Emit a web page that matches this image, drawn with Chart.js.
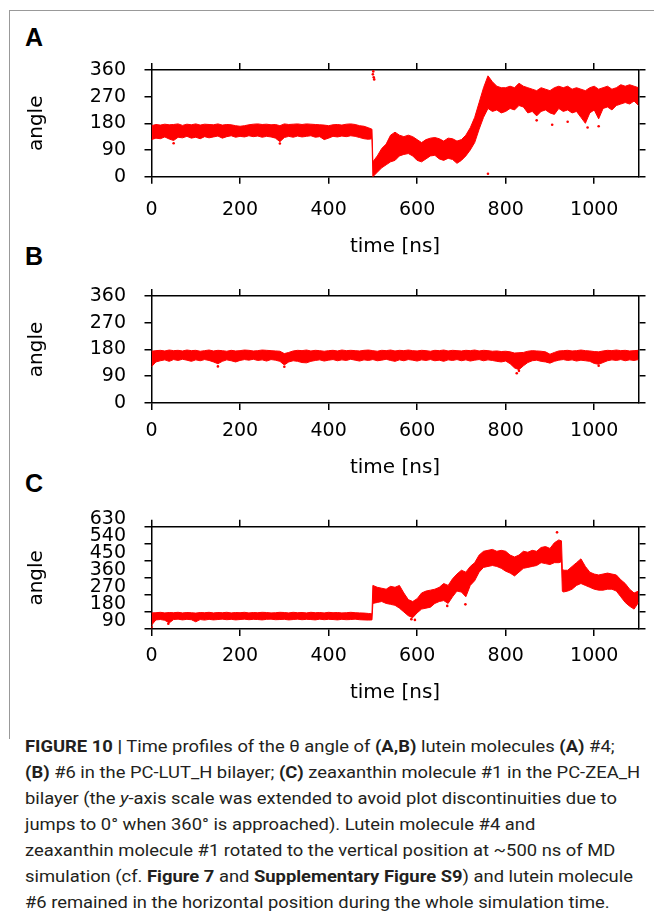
<!DOCTYPE html>
<html>
<head>
<meta charset="utf-8">
<script src="https://cdn.jsdelivr.net/npm/chart.js@4.4.1/dist/chart.umd.min.js"></script>
<style>
  body { margin: 0; background: #fff; width: 654px; height: 918px; position: relative; overflow: hidden; }
  .frame { position: absolute; left: 9px; top: 10px; width: 700px; height: 728px; border-left: 1px solid #999; border-top: 1px solid #999; }
  canvas { position: absolute; left: 0; }
  .tag { position: absolute; left: 25px; font: bold 25px/25px 'Liberation Sans', Arial, sans-serif; color: #000; }
  .cap { position: absolute; left: 25px; height: 26px; line-height: 26px; font-family: Roboto, sans-serif; font-size: 17px; color: #231f20; white-space: nowrap; display: inline-block; transform-origin: 0 50%; }
  .cap b { font-weight: bold; }
</style>
</head>
<body>
<div class="frame"></div>
<div class="tag" style="top:25px">A</div>
<div class="tag" style="top:244px">B</div>
<div class="tag" style="top:471px">C</div>
<canvas id="chartA" width="654" height="226" style="top:40px"></canvas>
<canvas id="chartB" width="654" height="226" style="top:266px"></canvas>
<canvas id="chartC" width="654" height="228" style="top:492px"></canvas>

<div class="cap" style="top:733px"><b>FIGURE 10 |</b> Time profiles of the θ angle of <b>(A,B)</b> lutein molecules <b>(A)</b> #4;</div>
<div class="cap" style="top:759px"><b>(B)</b> #6 in the PC-LUT_H bilayer; <b>(C)</b> zeaxanthin molecule #1 in the PC-ZEA_H</div>
<div class="cap" style="top:785px">bilayer (the <i>y</i>-axis scale was extended to avoid plot discontinuities due to</div>
<div class="cap" style="top:811px">jumps to 0° when 360° is approached). Lutein molecule #4 and</div>
<div class="cap" style="top:837px">zeaxanthin molecule #1 rotated to the vertical position at ~500 ns of MD</div>
<div class="cap" style="top:863px">simulation (cf. <b>Figure 7</b> and <b>Supplementary Figure S9</b>) and lutein molecule</div>
<div class="cap" style="top:889px">#6 remained in the horizontal position during the whole simulation time.</div>

<script>
// shared tick labels
const timeTicks = [0, 200, 400, 600, 800, 1000];
const angleTicks = [0, 90, 180, 270, 360];
const angleTicksC = [90, 180, 270, 360, 450, 540, 630];

// panel A: lutein #4, band of the theta angle (lower / upper edge)
const timeA = [0,10,20,30,40,50,60,70,80,90,100,110,120,130,140,150,160,170,180,190,
  200,210,220,230,240,250,260,270,280,290,300,310,320,330,340,350,360,370,380,390,
  400,410,420,430,440,450,460,470,480,490,498,
  500,510,520,530,540,550,560,570,580,590,600,610,620,630,640,650,660,670,680,690,
  700,710,720,730,740,750,760,770,780,790,800,810,820,830,840,850,860,870,880,890,
  900,910,920,930,940,950,960,970,980,990,1000,1010,1020,1030,1040,1050,1060,1070,1080,1090,1100];
const lowA = [125,130,128,134,127,122,133,131,136,130,133,128,135,131,134,137,130,135,138,133,
  136,134,138,135,137,133,136,134,130,118,132,136,133,137,134,136,138,133,135,125,
  130,136,134,137,135,138,136,132,128,126,128,
  0,15,30,40,50,55,70,75,78,70,55,50,60,70,72,60,55,62,58,45,
  55,70,90,115,160,200,230,220,225,215,220,230,225,240,235,215,220,205,220,225,
  215,210,230,220,225,215,220,200,180,215,225,195,230,235,225,240,245,250,245,255,240];
const highA = [172,176,174,177,175,176,178,173,177,175,178,174,177,176,175,178,174,176,175,172,
  170,172,175,177,178,176,177,175,176,172,178,176,177,178,176,178,177,176,175,174,
  172,175,176,174,177,178,176,172,170,165,160,
  50,70,95,110,140,150,140,135,140,135,125,115,125,130,132,128,120,130,128,120,
  125,140,165,200,250,300,340,320,305,300,300,305,300,315,305,300,295,290,300,295,
  290,300,305,300,305,295,300,295,290,300,305,295,300,305,295,300,310,305,310,305,300];
const stragglerTimeA = [50, 290, 500, 501, 502, 503, 760, 870, 905, 940, 985, 1010];
const stragglerAngleA = [113, 112, 345, 355, 335, 328, 10, 190, 175, 185, 166, 170];

// panel B: lutein #6
const timeB = [0,10,20,30,40,50,60,70,80,90,100,110,120,130,140,150,160,170,180,190,
  200,210,220,230,240,250,260,270,280,290,300,310,320,330,340,350,360,370,380,390,
  400,410,420,430,440,450,460,470,480,490,500,510,520,530,540,550,560,570,580,590,
  600,610,620,630,640,650,660,670,680,690,700,710,720,730,740,750,760,770,780,790,
  800,810,820,830,840,850,860,870,880,890,900,910,920,930,940,950,960,970,980,990,
  1000,1010,1020,1030,1040,1050,1060,1070,1080,1090,1100];
const lowB = [122,138,142,145,140,146,143,147,144,140,145,142,146,143,138,132,140,145,142,138,
  143,146,144,147,143,145,141,146,144,140,128,138,142,140,136,135,140,143,145,141,
  144,146,142,145,143,147,144,141,145,143,146,142,144,147,143,140,145,142,146,144,
  141,145,143,146,142,144,140,145,143,146,142,145,141,144,146,142,145,143,140,138,
  141,132,118,112,125,136,142,144,140,138,134,140,144,146,143,145,141,144,142,140,
  133,130,136,142,145,143,146,142,145,143,146];
const highB = [174,176,177,175,178,176,177,175,178,176,177,174,176,178,175,177,176,174,177,175,
  176,178,177,175,176,178,177,176,175,174,166,170,175,177,176,178,175,177,176,174,
  176,177,175,178,176,177,176,175,177,178,176,174,177,176,178,175,177,176,178,176,
  175,177,176,174,177,176,178,175,177,176,175,177,176,178,175,177,176,174,175,173,
  174,172,168,169,170,174,176,175,174,172,164,170,175,176,177,175,176,178,176,175,
  173,172,175,177,176,178,176,177,175,176,177];
const stragglerTimeB = [150, 300, 825, 830, 1010];
const stragglerAngleB = [123, 122, 100, 108, 125];

// panel C: zeaxanthin #1 (extended y range)
const timeC = [0,10,20,30,40,50,60,70,80,90,100,110,120,130,140,150,160,170,180,190,
  200,210,220,230,240,250,260,270,280,290,300,310,320,330,340,350,360,370,380,390,
  400,410,420,430,440,450,460,470,480,490,498,
  500,510,520,530,540,550,560,570,580,590,600,610,620,630,640,650,660,670,680,690,
  700,710,720,730,740,750,760,770,780,790,800,810,820,830,840,850,860,870,880,890,
  900,910,920,926,928,930,940,950,960,970,980,990,
  1000,1010,1020,1030,1040,1050,1060,1070,1080,1090,1100];
const lowC = [110,138,140,136,122,140,142,138,141,139,128,140,137,141,138,140,142,139,141,138,
  140,142,139,141,140,138,141,142,139,140,141,138,140,142,139,141,140,138,142,139,
  141,140,138,141,139,140,142,139,138,137,138,
  225,230,235,225,220,215,200,180,160,150,175,195,200,205,225,235,240,225,260,290,
  285,260,320,345,390,415,420,425,420,410,395,385,370,390,410,415,420,425,440,435,
  430,440,440,445,290,285,290,300,320,330,320,310,
  300,295,295,300,300,290,260,230,210,195,230];
const highC = [175,176,178,175,177,176,178,175,177,176,174,177,176,178,175,177,176,178,175,177,
  176,178,175,177,176,178,177,175,176,178,177,175,178,176,177,175,178,176,177,175,
  178,176,177,175,176,178,176,175,174,172,170,
  320,310,305,300,315,310,320,280,245,235,250,280,290,295,300,310,330,320,355,380,
  400,390,420,440,480,500,505,510,500,505,500,480,470,480,500,495,505,500,520,525,
  515,545,560,555,410,400,400,420,440,460,420,390,
  380,375,380,385,380,375,350,330,300,280,290];
const stragglerTimeC = [0, 38, 587, 595, 668, 709, 916];
const stragglerAngleC = [100, 118, 142, 138, 212, 220, 600];

const black = '#000';
const tickFont = { family: 'DejaVu Sans', size: 19 };
const titleFont = { family: 'DejaVu Sans', size: 20, lineHeight: 1.2 };
const edge = { display: true, color: black, width: 1.5 };
const marks = { drawOnChartArea: false, drawTicks: true, tickLength: 7, color: black, lineWidth: 1.5 };

function pts(xs, ys) {
  return ys.map((y, i) => ({ x: xs[i], y: y }));
}

function setTicks(list) {
  return scale => { scale.ticks = list.map(v => ({ value: v })); };
}

function makePanel(id, t, lo, hi, sT, sV, yMin, yMax, yTicks, opt) {
  const ctx = document.getElementById(id).getContext('2d');
  const H = ctx.canvas.height;
  return new Chart(ctx, {
    type: 'line',
    data: {
      datasets: [
        { data: pts(t, lo), borderWidth: 1, borderColor: '#ff0000', pointRadius: 0, fill: false, tension: 0 },
        { data: pts(t, hi), borderWidth: 1, borderColor: '#ff0000', pointRadius: 0, fill: '-1', backgroundColor: '#ff0000', tension: 0 },
        { type: 'scatter', data: pts(sT, sV), pointRadius: 1.3, backgroundColor: '#ff0000', borderWidth: 0 }
      ]
    },
    options: {
      responsive: false,
      animation: false,
      devicePixelRatio: 1,
      layout: { padding: 0 },
      plugins: { legend: { display: false }, tooltip: { enabled: false } },
      scales: {
        x: {
          type: 'linear', position: 'bottom', min: 0, max: 1100,
          afterBuildTicks: setTicks(timeTicks),
          afterFit: s => { s.height = H - opt.plotBottom; },
          border: edge, grid: marks,
          ticks: { font: tickFont, color: black, padding: opt.xPad, maxRotation: 0, autoSkip: false, callback: v => String(v) },
          title: { display: true, text: 'time [ns]', font: titleFont, color: black, padding: { top: 0, bottom: opt.titlePad } }
        },
        x2: {
          type: 'linear', position: 'top', min: 0, max: 1100,
          afterBuildTicks: setTicks(timeTicks),
          afterFit: s => { s.height = 25.7; },
          border: edge, grid: marks, ticks: { display: false }
        },
        y: {
          type: 'linear', position: 'left', min: yMin, max: yMax,
          afterBuildTicks: setTicks(yTicks),
          afterFit: s => { s.width = 151.5; },
          border: edge, grid: marks,
          ticks: {
            font: Object.assign({ lineHeight: opt.lineH || 1.2 }, tickFont), color: black, padding: 18.5,
            autoSkip: false,
            callback: v => opt.lift ? [String(v), ''] : String(v)
          },
          title: { display: true, text: 'angle', font: titleFont, color: black, padding: { top: 25, bottom: 0 } }
        },
        y2: {
          type: 'linear', position: 'right', min: yMin, max: yMax,
          afterBuildTicks: setTicks(yTicks),
          afterFit: s => { s.width = 15.5; },
          border: edge, grid: marks, ticks: { display: false }
        }
      }
    }
  });
}

makePanel('chartA', timeA, lowA, highA, stragglerTimeA, stragglerAngleA, 0, 360, angleTicks,
  { plotBottom: 136.7, xPad: 15, titlePad: 7 });
makePanel('chartB', timeB, lowB, highB, stragglerTimeB, stragglerAngleB, 0, 360, angleTicks,
  { plotBottom: 137, xPad: 10, titlePad: 12 });
makePanel('chartC', timeC, lowC, highC, stragglerTimeC, stragglerAngleC, 90, 630, angleTicksC,
  { plotBottom: 137, xPad: 9, titlePad: 15, lift: true, lineH: 0.85 });

// squeeze the caption the same amount on every line, so the second line spans 615px
const capLines = document.querySelectorAll('.cap');
const squeeze = 615 / capLines[1].offsetWidth;
capLines.forEach(el => { el.style.transform = 'scaleX(' + squeeze + ')'; });
</script>
</body>
</html>
